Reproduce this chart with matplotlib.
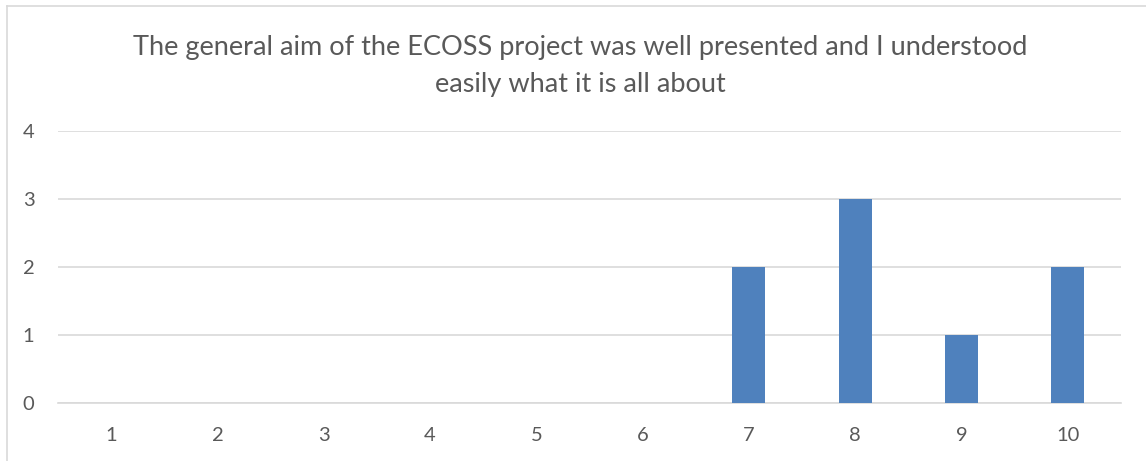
import matplotlib.pyplot as plt

categories = ["1", "2", "3", "4", "5", "6", "7", "8", "9", "10"]
counts = [0, 0, 0, 0, 0, 0, 2, 3, 1, 2]
title = ("The general aim of the ECOSS project was well presented and I understood\n"
         "easily what it is all about")

plt.rcParams['font.family'] = ['Lato', 'DejaVu Sans']
text_color = '#595959'
grid_color = '#d9d9d9'

W, H = 1146, 461
fig = plt.figure(figsize=(W / 100, H / 100), dpi=100)
ax = fig.add_axes([58 / W, 58 / H, (1121 - 58) / W, (403 - 131) / H])

x = range(len(categories))
ax.bar(x, counts, width=0.31, color='#4f81bd', zorder=3)

ax.set_xlim(-0.5, len(categories) - 0.5)
ax.set_ylim(0, 4)
ax.set_yticks([0, 1, 2, 3, 4])
ax.set_xticks(list(x))
ax.set_xticklabels(categories)
ax.yaxis.grid(True, color=grid_color, linewidth=1.2, zorder=0)
for s in ['top', 'right', 'left']:
    ax.spines[s].set_visible(False)
ax.spines['bottom'].set_color(grid_color)
ax.spines['bottom'].set_linewidth(1.2)
ax.tick_params(length=0, labelsize=14.5, colors=text_color)
ax.tick_params(axis='y', pad=17)
ax.tick_params(axis='x', pad=17)

fig.text(580 / W, 1 - 66 / H, title, ha='center', va='center', fontsize=19.5,
         color=text_color, linespacing=1.6)

# chart area border (only left and top visible in the crop)
fig.add_artist(plt.Line2D([6.5 / W, 6.5 / W], [0, 1 - 6.5 / H], color=grid_color, lw=1.2))
fig.add_artist(plt.Line2D([6.5 / W, 1], [1 - 6.5 / H, 1 - 6.5 / H], color=grid_color, lw=1.2))

fig.savefig('out.png', dpi=100)
